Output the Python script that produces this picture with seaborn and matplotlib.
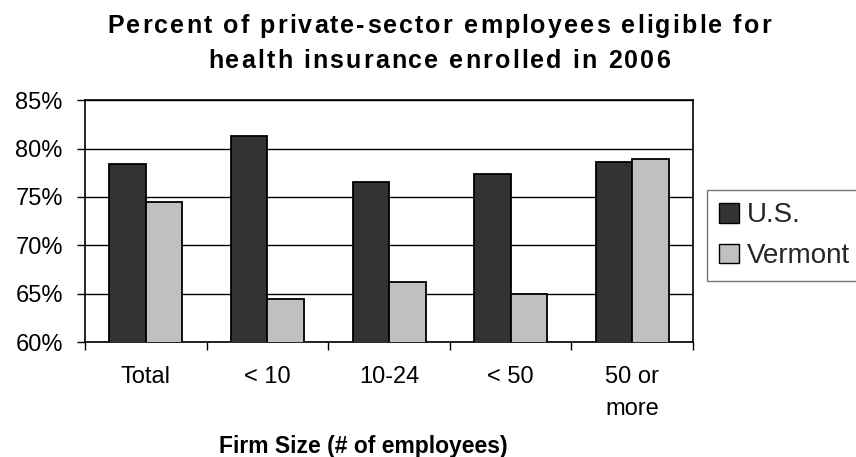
import matplotlib
matplotlib.use("Agg")
import matplotlib.pyplot as plt
import matplotlib.ticker as mticker
import seaborn as sns
import pandas as pd
import numpy as np

# Enrollment rates by firm size, 2006
firm_sizes = ["Total", "< 10", "10-24", "< 50", "50 or\nmore"]
us_rates = [78.4, 81.3, 76.5, 77.4, 78.6]
vermont_rates = [74.5, 64.5, 66.2, 65.0, 78.9]
series_names = ["U.S.", "Vermont"]
series_colors = ["#333333", "#c0c0c0"]
title_lines = ["Percent of private-sector employees eligible for",
               "health insurance enrolled in 2006"]
x_title = "Firm Size (# of employees)"

df = pd.DataFrame({
    "Firm size": firm_sizes * 2,
    "Rate": [v / 100 for v in us_rates + vermont_rates],
    "Region": [series_names[0]] * len(firm_sizes) + [series_names[1]] * len(firm_sizes),
})

sns.set_theme(style="white")
plt.rcParams["font.family"] = ["Liberation Sans", "DejaVu Sans"]

W, H = 856, 457
fig = plt.figure(figsize=(W / 100, H / 100), dpi=100)
ax = fig.add_axes([0.0993, 0.251, 0.7104, 0.530])

sns.barplot(
    data=df, x="Firm size", y="Rate", hue="Region",
    palette=series_colors, width=0.6, edgecolor="black", linewidth=1.3,
    ax=ax, zorder=3, legend=True,
)

ax.set_ylim(0.60, 0.85)
ax.set_xlim(-0.5, len(firm_sizes) - 0.5)
ax.yaxis.set_major_locator(mticker.MultipleLocator(0.05))
ax.yaxis.set_major_formatter(mticker.PercentFormatter(xmax=1, decimals=0))
ax.grid(axis="y", color="black", linewidth=1.0, zorder=0)
ax.set_axisbelow(True)

for spine in ax.spines.values():
    spine.set_visible(True)
    spine.set_color("black")
    spine.set_linewidth(1.2)

# category labels centred, tick marks at the category boundaries
ax.set_xticks(np.arange(len(firm_sizes)))
ax.set_xticklabels(firm_sizes, linespacing=1.6)
ax.set_xticks(np.arange(-0.5, len(firm_sizes)), minor=True)
ax.tick_params(axis="x", which="major", length=0, pad=17, labelsize=17, labelcolor="black")
ax.tick_params(axis="x", which="minor", length=6, width=1.0, color="black", direction="out", bottom=True)
ax.tick_params(axis="y", which="major", length=6, width=1.0, color="black", direction="out",
               left=True, pad=10, labelsize=17, labelcolor="black")

ax.set_ylabel("")
ax.set_xlabel("")

fig.text(0.425, 1 - 453 / H, x_title, ha="center", va="baseline",
         fontsize=16.5, fontweight="bold", color="black")

# title drawn with letter tracking
renderer = fig.canvas.get_renderer()
title_kw = dict(fontsize=18, fontweight="bold", color="black")


def text_width(s):
    t = fig.text(0, 0, s, **title_kw)
    w = t.get_window_extent(renderer).width
    t.remove()
    return w


bar_w = text_width("||")


def char_width(ch):
    return text_width("|" + ch + "|") - bar_w


def tracked_line(s, cx_px, base_px, tracking):
    widths = [char_width(c) for c in s]
    total = sum(widths) + tracking * (len(s) - 1)
    x = cx_px - total / 2
    for c, w in zip(s, widths):
        if c != " ":
            fig.text(x / W, 1 - base_px / H, c, ha="left", va="baseline", **title_kw)
        x += w + tracking


tracked_line(title_lines[0], 439, 33, 2.1)
tracked_line(title_lines[1], 439, 68, 2.1)

handles, labels = ax.get_legend_handles_labels()
ax.get_legend().remove()
leg = fig.legend(
    handles, labels, loc="upper left", bbox_to_anchor=(706.7 / W, 1 - 190 / H),
    frameon=True, fancybox=False, fontsize=20, handlelength=0.7, handleheight=0.7,
    handletextpad=0.3, labelspacing=0.52, borderpad=0.45, borderaxespad=0,
)
leg.get_frame().set_edgecolor("#555555")
leg.get_frame().set_linewidth(1.0)
for h in leg.legend_handles:
    h.set_edgecolor("black")
    h.set_linewidth(1.0)

fig.savefig("out.png", dpi=100)
